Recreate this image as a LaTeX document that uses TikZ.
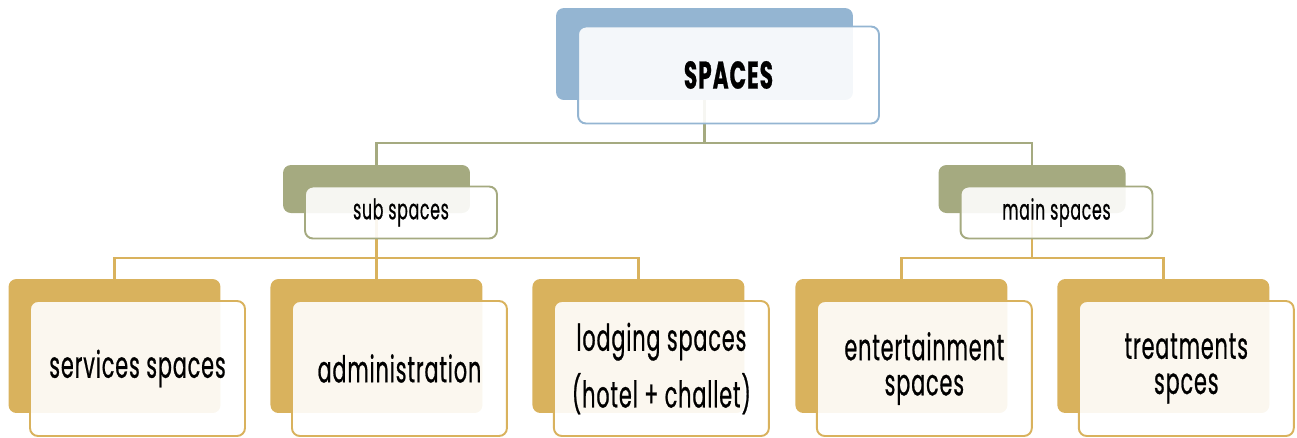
\documentclass[tikz,border=0pt]{standalone}
\usepackage{fontspec}
\setmainfont[FakeStretch=0.56, LetterSpace=2.5, FakeBold=0.6]{Poppins}
\usepackage{tikz}
\usetikzlibrary{positioning, backgrounds}
\definecolor{spblue}{RGB}{148, 181, 210}
\definecolor{spolive}{RGB}{165, 170, 128}
\definecolor{spgold}{RGB}{217, 178, 93}

\begin{document}
\begin{tikzpicture}[x=0.02cm, y=-0.02cm,
    backbox/.style={rounded corners=4.5pt, minimum width=#1, inner sep=0pt, outer sep=0pt},
    frontbox/.style={rounded corners=4.5pt, draw=#1, line width=1.1pt, fill=white,
      fill opacity=0.9, text opacity=1, inner sep=0pt, outer sep=0pt, align=center},
    link/.style={line width=1.4pt, draw=#1}]
    \useasboundingbox (0,0) rectangle (1297,437);
    % top level
    \node[backbox=5.94cm, fill=spblue, minimum height=1.84cm] (spacesbg) at (704.5,54) {};
    \node[frontbox=spblue, minimum width=6.02cm, minimum height=1.94cm,
          font=\fontsize{22}{22}\selectfont\bfseries] (spaces)
          at ([shift={(24,21)}]spacesbg.center) {SPACES};
    % second level
    \node[backbox=3.74cm, fill=spolive, minimum height=0.96cm] (subbg) at (376.5,189) {};
    \node[frontbox=spolive, minimum width=3.84cm, minimum height=1.04cm,
          font=\fontsize{16}{17}\selectfont] (sub)
          at ([shift={(24.5,23.5)}]subbg.center) {sub spaces};
    \node[backbox=3.74cm, fill=spolive, minimum height=0.96cm] (mainbg) at (1032,189) {};
    \node[frontbox=spolive, minimum width=3.84cm, minimum height=1.04cm,
          font=\fontsize{16}{17}\selectfont] (main)
          at ([shift={(24.5,23.5)}]mainbg.center) {main spaces};
    % third level
    \node[backbox=4.24cm, fill=spgold, minimum height=2.68cm] (svcbg) at (114.5,346) {};
    \node[backbox=4.24cm, fill=spgold, minimum height=2.68cm, right=1cm of svcbg] (admbg) {};
    \node[backbox=4.24cm, fill=spgold, minimum height=2.68cm, right=1cm of admbg] (lodgbg) {};
    \node[backbox=4.24cm, fill=spgold, minimum height=2.68cm, right=1.02cm of lodgbg] (entbg) {};
    \node[backbox=4.24cm, fill=spgold, minimum height=2.68cm, right=1cm of entbg] (treatbg) {};
    \node[frontbox=spgold, minimum width=4.3cm, minimum height=2.7cm,
          font=\fontsize{21}{20}\selectfont] (svc)
          at ([shift={(23,22.5)}]svcbg.center) {services spaces};
    \node[frontbox=spgold, minimum width=4.3cm, minimum height=2.7cm,
          font=\fontsize{21}{20}\selectfont] (adm)
          at ([shift={(23,22.5)}]admbg.center) {administration};
    \node[frontbox=spgold, minimum width=4.3cm, minimum height=2.7cm,
          font=\fontsize{21}{20}\selectfont] (lodg)
          at ([shift={(23,22.5)}]lodgbg.center) {lodging spaces\\[6pt](hotel + challet)};
    \node[frontbox=spgold, minimum width=4.3cm, minimum height=2.7cm,
          font=\fontsize{21}{20}\selectfont] (ent)
          at ([shift={(23,22.5)}]entbg.center) {entertainment\\spaces};
    \node[frontbox=spgold, minimum width=4.3cm, minimum height=2.7cm,
          font=\fontsize{21}{20}\selectfont] (treat)
          at ([shift={(23,22.5)}]treatbg.center) {treatments\\spces};
    % connectors
    \begin{scope}[on background layer]
      \draw[link=spolive] (spacesbg.south) -- (spacesbg.south |- 0,143) -| (subbg.north);
      \draw[link=spolive] (spacesbg.south) -- (spacesbg.south |- 0,143) -| (mainbg.north);
      \draw[link=spgold] (subbg.south) -- (subbg.south |- 0,258) -| (svcbg.north);
      \draw[link=spgold] (subbg.south) -- (subbg.south |- 0,258) -| (admbg.north);
      \draw[link=spgold] (subbg.south) -- (subbg.south |- 0,258) -| (lodgbg.north);
      \draw[link=spgold] (mainbg.south) -- (mainbg.south |- 0,258) -| (entbg.north);
      \draw[link=spgold] (mainbg.south) -- (mainbg.south |- 0,258) -| (treatbg.north);
    \end{scope}
\end{tikzpicture}
\end{document}
